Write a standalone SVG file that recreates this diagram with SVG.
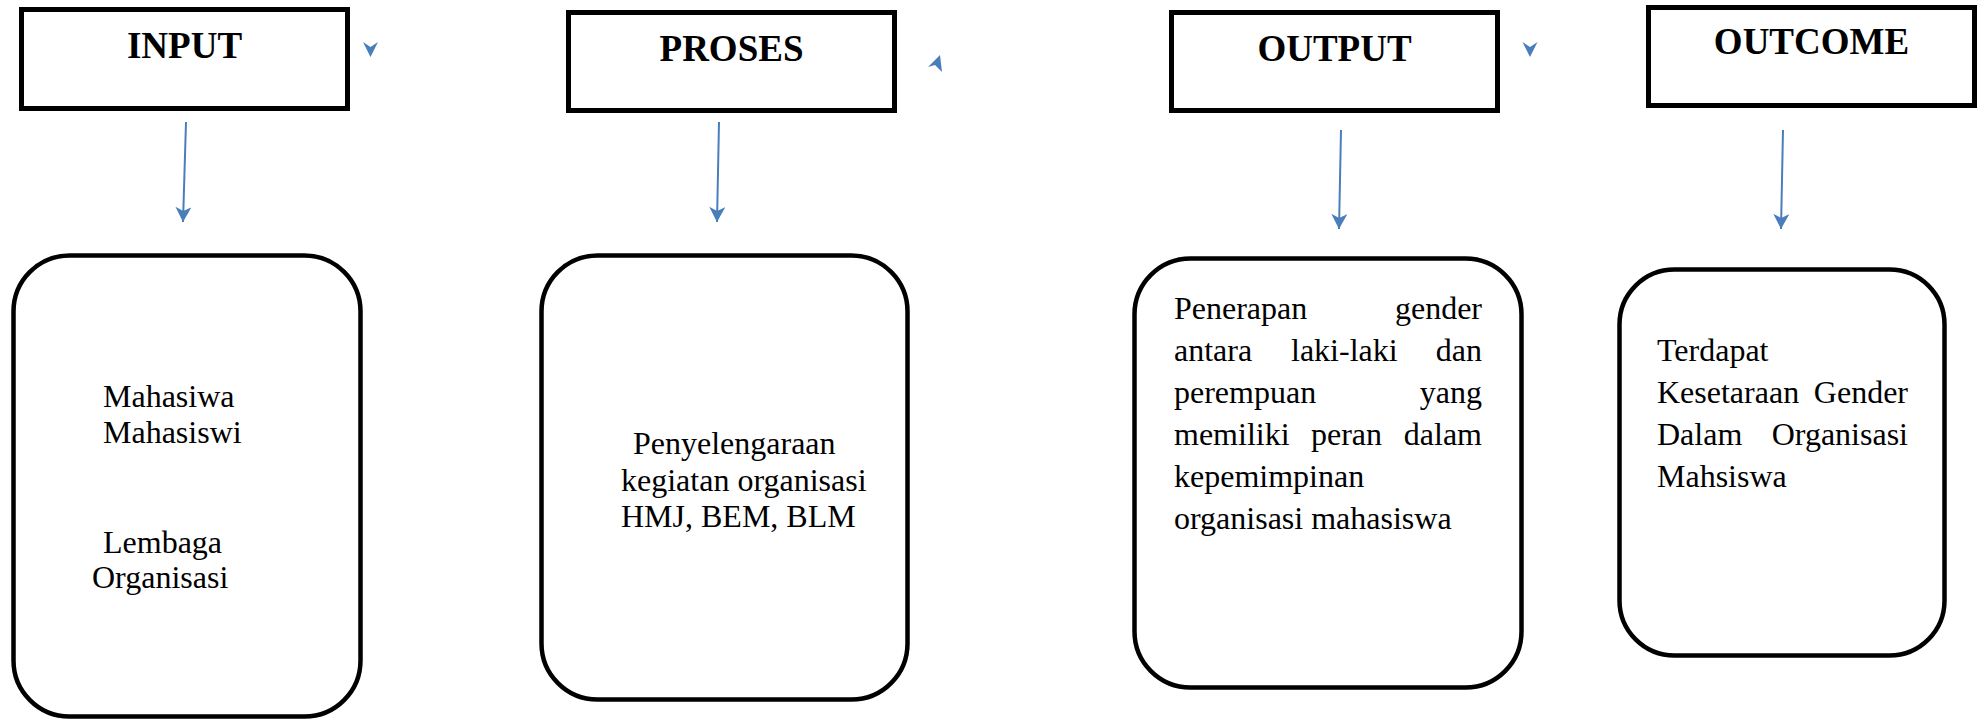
<svg xmlns="http://www.w3.org/2000/svg" width="1981" height="721" viewBox="0 0 1981 721">
<style>
.tbox{fill:#fff;stroke:#000;stroke-width:5}
.rbox{fill:#fff;stroke:#000;stroke-width:4.5}
.title{font-family:"Liberation Serif","Times New Roman",serif;font-weight:bold;font-size:37px;fill:#000;text-anchor:middle}
.body{font-family:"Liberation Serif","Times New Roman",serif;font-size:32px;fill:#000}
.end{text-anchor:end}
.conn{stroke:#4a7ebb;stroke-width:2;fill:none}
.head{fill:#4a7ebb}
</style>
<defs>
<marker id="ah" viewBox="0 0 16 16" refX="15" refY="8" markerWidth="16" markerHeight="16" markerUnits="userSpaceOnUse" orient="auto">
<path d="M0,0 L15,8 L0,16 L4,8 Z" fill="#4a7ebb"/>
</marker>
</defs>
<rect width="1981" height="721" fill="#fff"/>

<g id="input">
<rect class="tbox" x="21.5" y="9.5" width="326" height="99"/>
<text class="title" x="184.5" y="58">INPUT</text>
</g>
<g id="proses">
<rect class="tbox" x="568.5" y="12.5" width="326" height="98"/>
<text class="title" x="731.5" y="61">PROSES</text>
</g>
<g id="output">
<rect class="tbox" x="1171.5" y="12.5" width="326" height="98"/>
<text class="title" x="1334.5" y="61">OUTPUT</text>
</g>
<g id="outcome">
<rect class="tbox" x="1648.5" y="7.5" width="326" height="98"/>
<text class="title" x="1811.5" y="54">OUTCOME</text>
</g>

<g id="input-detail">
<rect class="rbox" x="13.5" y="255.5" width="347" height="461" rx="56" ry="56"/>
<text class="body" x="103" y="407">Mahasiwa</text>
<text class="body" x="103" y="443">Mahasiswi</text>
<text class="body" x="103" y="553">Lembaga</text>
<text class="body" x="92" y="588">Organisasi</text>
</g>
<g id="proses-detail">
<rect class="rbox" x="541.5" y="255.5" width="366" height="444" rx="56" ry="56"/>
<text class="body" x="633" y="454">Penyelengaraan</text>
<text class="body" x="621" y="491">kegiatan organisasi</text>
<text class="body" x="621" y="527">HMJ, BEM, BLM</text>
</g>
<g id="output-detail">
<rect class="rbox" x="1134.5" y="258.5" width="387" height="429" rx="56" ry="56"/>
<text class="body" x="1174" y="319">Penerapan</text>
<text class="body end" x="1482" y="319">gender</text>
<text class="body" x="1174" y="361">antara</text>
<text class="body" x="1291" y="361">laki-laki</text>
<text class="body end" x="1482" y="361">dan</text>
<text class="body" x="1174" y="403">perempuan</text>
<text class="body end" x="1482" y="403">yang</text>
<text class="body" x="1174" y="445">memiliki</text>
<text class="body" x="1311" y="445">peran</text>
<text class="body end" x="1482" y="445">dalam</text>
<text class="body" x="1174" y="487">kepemimpinan</text>
<text class="body" x="1174" y="529">organisasi mahasiswa</text>
</g>
<g id="outcome-detail">
<rect class="rbox" x="1619.5" y="269.5" width="325" height="386" rx="55" ry="55"/>
<text class="body" x="1657" y="361">Terdapat</text>
<text class="body" x="1657" y="403">Kesetaraan</text>
<text class="body end" x="1908" y="403">Gender</text>
<text class="body" x="1657" y="445">Dalam</text>
<text class="body end" x="1908" y="445">Organisasi</text>
<text class="body" x="1657" y="487">Mahsiswa</text>
</g>

<g id="connectors">
<line class="conn" x1="186" y1="122" x2="183" y2="222" marker-end="url(#ah)"/>
<line class="conn" x1="719" y1="122" x2="717" y2="222" marker-end="url(#ah)"/>
<line class="conn" x1="1341" y1="130" x2="1339" y2="229" marker-end="url(#ah)"/>
<line class="conn" x1="1783" y1="130" x2="1781" y2="229" marker-end="url(#ah)"/>
<path class="head" d="M370.5,57 L363,42 L370.5,47 L378,42 Z"/>
<path class="head" d="M940,55 L942,72 L935,65 L928,67 Z"/>
<path class="head" d="M1530,57 L1522.5,42 L1530,47 L1537.5,42 Z"/>
</g>
</svg>
